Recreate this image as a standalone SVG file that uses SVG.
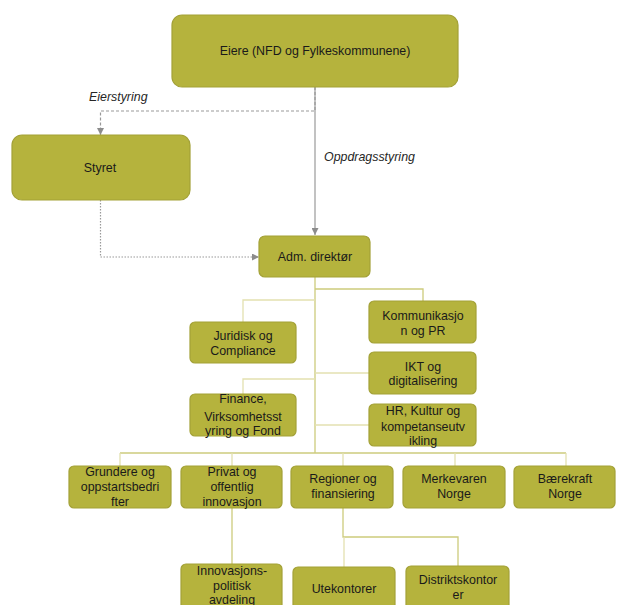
<svg xmlns="http://www.w3.org/2000/svg" width="618" height="605" viewBox="0 0 618 605">
<style>
.box{fill:#b5b33d;stroke:#a3a137;stroke-width:1.2}
.t{font-family:"Liberation Sans",Arial,sans-serif;font-size:12.4px;fill:#1a1a1a;text-anchor:middle}
.it{font-family:"Liberation Sans",Arial,sans-serif;font-size:12.4px;fill:#262626;font-style:italic}
.ol{fill:none;stroke:#cdcb7c;stroke-width:1.3}
.ol2{fill:none;stroke:#e3e1b0;stroke-width:1.3}
.gr{fill:none;stroke:#999;stroke-width:1.2}
</style>
<defs>
<marker id="ah" viewBox="0 0 10 10" refX="10" refY="5" markerWidth="7" markerHeight="7" orient="auto" markerUnits="userSpaceOnUse">
<path d="M0,0 L10,5 L0,10 z" fill="#8c8c8c"/>
</marker>
</defs>
<rect width="618" height="605" fill="#fff"/>
<g id="connectors">
<path class="gr" d="M315,87 V111 H100.5 V135" stroke-dasharray="3,2" marker-end="url(#ah)"/>
<path class="gr" d="M315,87 V235" marker-end="url(#ah)"/>
<path class="gr" d="M100.5,200 V257 H259" stroke-dasharray="1.5,1.5" stroke="#aaa" marker-end="url(#ah)"/>
<path class="ol" d="M315,277 V453"/>
<path class="ol" d="M315,289 H423 V301"/>
<path class="ol2" d="M315,300 H243 V322"/>
<path class="ol2" d="M315,373 H369"/>
<path class="ol2" d="M315,379 H243 V394"/>
<path class="ol2" d="M315,425 H369"/>
<path class="ol" d="M120,453 H566"/>
<path class="ol2" d="M120,453 V466 M232,453 V466 M343,453 V466 M455,453 V466 M566,453 V466"/>
<path class="ol" d="M232,508 V564"/>
<path class="ol" d="M343,508 V537 H458 V566"/>
<path class="ol2" d="M344,537 V567"/>
</g>
<g id="eiere"><rect class="box" x="172" y="15" width="286" height="72" rx="10"/><text class="t" x="315" y="55">Eiere (NFD og Fylkeskommunene)</text></g>
<text class="it" x="89" y="101">Eierstyring</text>
<text class="it" x="324" y="161">Oppdragsstyring</text>
<g id="styret"><rect class="box" x="12" y="135" width="178" height="65" rx="10"/><text class="t" x="100" y="172">Styret</text></g>
<g id="adm"><rect class="box" x="259" y="236" width="111" height="41" rx="6"/><text class="t" x="315" y="261">Adm. direktør</text></g>
<g id="juridisk"><rect class="box" x="190" y="322" width="106" height="41" rx="5"/><text class="t" x="243" y="340">Juridisk og</text><text class="t" x="243" y="355">Compliance</text></g>
<g id="kommunikasjon"><rect class="box" x="369" y="301" width="107" height="42" rx="5"/><text class="t" x="423" y="320">Kommunikasjo</text><text class="t" x="423" y="335">n og PR</text></g>
<g id="ikt"><rect class="box" x="369" y="352" width="107" height="42" rx="5"/><text class="t" x="423" y="371">IKT og</text><text class="t" x="423" y="385">digitalisering</text></g>
<g id="finance"><rect class="box" x="190" y="394" width="106" height="42" rx="5"/><text class="t" x="243" y="403">Finance,</text><text class="t" x="243" y="421">Virksomhetsst</text><text class="t" x="243" y="435">yring og Fond</text></g>
<g id="hr"><rect class="box" x="369" y="404" width="107" height="42" rx="5"/><text class="t" x="423" y="415">HR, Kultur og</text><text class="t" x="423" y="431">kompetanseutv</text><text class="t" x="423" y="445">ikling</text></g>
<g id="grundere"><rect class="box" x="69" y="466" width="102" height="42" rx="5"/><text class="t" x="120" y="476">Grundere og</text><text class="t" x="120" y="491">oppstartsbedri</text><text class="t" x="120" y="506">fter</text></g>
<g id="privat"><rect class="box" x="181" y="466" width="101" height="42" rx="5"/><text class="t" x="232" y="476">Privat og</text><text class="t" x="232" y="491">offentlig</text><text class="t" x="232" y="506">innovasjon</text></g>
<g id="regioner"><rect class="box" x="291" y="466" width="102" height="42" rx="5"/><text class="t" x="343" y="483">Regioner og</text><text class="t" x="343" y="498">finansiering</text></g>
<g id="merkevaren"><rect class="box" x="403" y="466" width="102" height="42" rx="5"/><text class="t" x="454" y="483">Merkevaren</text><text class="t" x="454" y="498">Norge</text></g>
<g id="baerekraft"><rect class="box" x="514" y="466" width="101" height="42" rx="5"/><text class="t" x="565" y="483">Bærekraft</text><text class="t" x="565" y="498">Norge</text></g>
<g id="innovasjons"><rect class="box" x="181" y="564" width="101" height="50" rx="5"/><text class="t" x="232" y="575">Innovasjons-</text><text class="t" x="232" y="590">politisk</text><text class="t" x="232" y="604">avdeling</text></g>
<g id="utekontorer"><rect class="box" x="293" y="567" width="102" height="50" rx="5"/><text class="t" x="344" y="593">Utekontorer</text></g>
<g id="distrikts"><rect class="box" x="406" y="566" width="103" height="50" rx="5"/><text class="t" x="458" y="584">Distriktskontor</text><text class="t" x="458" y="599">er</text></g>
</svg>
